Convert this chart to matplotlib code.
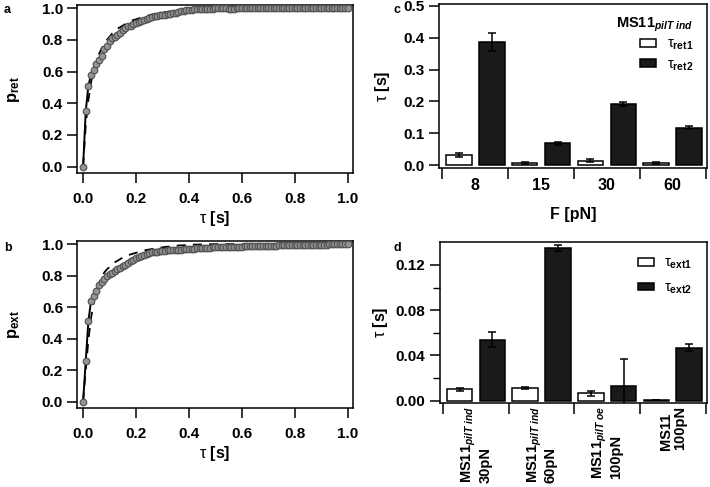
import matplotlib
matplotlib.use("Agg")
import matplotlib.pyplot as plt
import numpy as np

plt.rcParams.update({
    'font.family': ['Liberation Sans', 'DejaVu Sans'],
    'font.size': 11,
    'font.weight': 'bold',
    'axes.labelweight': 'bold',
    'mathtext.fontset': 'custom',
    'mathtext.rm': 'Liberation Sans:bold',
    'mathtext.bf': 'Liberation Sans:bold',
    'mathtext.it': 'Liberation Sans:italic',
    'mathtext.sf': 'Liberation Sans:bold',
    'axes.linewidth': 1.1,
    'xtick.major.width': 1.1,
    'ytick.major.width': 1.1,
    'xtick.minor.width': 1.0,
    'ytick.minor.width': 1.0,
})

# ---- data: cumulative dwell-time distributions (tau = 0 .. 1 s, step 0.01) ----
tau = np.round(np.arange(0, 101) * 0.01, 2)

p_ret = [0.0, 0.35, 0.51, 0.58, 0.61, 0.645, 0.67, 0.70, 0.74, 0.76,
         0.79, 0.81, 0.82, 0.83, 0.845, 0.86, 0.875, 0.885, 0.89, 0.90,
         0.905, 0.915, 0.92, 0.925, 0.93, 0.94, 0.945, 0.95, 0.952, 0.955,
         0.958, 0.96, 0.962, 0.965, 0.967, 0.97, 0.975, 0.98, 0.985, 0.988,
         0.99, 0.991, 0.992, 0.993, 0.994, 0.995, 0.996, 0.996, 0.997, 0.997,
         0.998, 0.998, 0.998, 0.998, 0.998, 0.997, 0.997, 0.997, 0.998, 0.998,
         0.998, 0.998, 0.999, 0.999, 0.999, 0.999, 0.999, 0.999, 0.999, 0.999,
         0.999, 0.999, 0.999, 0.999, 0.999, 0.999, 0.999, 0.999, 0.999, 0.999,
         1.0, 1.0, 1.0, 1.0, 1.0, 1.0, 1.0, 1.0, 1.0, 1.0,
         1.0, 1.0, 1.0, 1.0, 1.0, 1.0, 1.0, 1.0, 1.0, 1.0, 1.0]

fit_ret = [0.0, 0.26, 0.42, 0.53, 0.61, 0.67, 0.71, 0.745, 0.775, 0.80,
           0.82, 0.84, 0.855, 0.87, 0.88, 0.89, 0.90, 0.91, 0.92, 0.925,
           0.93, 0.935, 0.94, 0.945, 0.95, 0.955, 0.96, 0.963, 0.966, 0.969,
           0.972, 0.975, 0.977, 0.979, 0.981, 0.983, 0.985, 0.987, 0.989, 0.99,
           0.991, 0.992, 0.993, 0.994, 0.995, 0.996, 0.997, 0.998, 0.998, 0.999,
           0.999] + [1.0] * 50

p_ext = [0.0, 0.257, 0.51, 0.64, 0.67, 0.70, 0.74, 0.76, 0.78, 0.80,
         0.81, 0.82, 0.83, 0.84, 0.85, 0.86, 0.87, 0.88, 0.89, 0.90,
         0.91, 0.917, 0.925, 0.932, 0.94, 0.945, 0.948, 0.95, 0.952, 0.954,
         0.956, 0.958, 0.96, 0.961, 0.962, 0.964, 0.965, 0.966, 0.967, 0.968,
         0.97, 0.971, 0.972, 0.973, 0.974, 0.975, 0.976, 0.977, 0.978, 0.979,
         0.98, 0.981, 0.981, 0.982, 0.982, 0.983, 0.983, 0.984, 0.984, 0.985,
         0.985, 0.986, 0.986, 0.987, 0.987, 0.988, 0.988, 0.989, 0.989, 0.99,
         0.99, 0.991, 0.991, 0.991, 0.992, 0.992, 0.992, 0.993, 0.993, 0.993,
         0.994, 0.994, 0.994, 0.995, 0.995, 0.995, 0.996, 0.996, 0.996, 0.997,
         0.997, 0.997, 0.997, 0.998, 0.998, 0.998, 0.998, 0.999, 0.999, 0.999, 1.0]

fit_ext = [0.0, 0.20, 0.39, 0.53, 0.63, 0.70, 0.75, 0.79, 0.82, 0.84,
           0.855, 0.87, 0.885, 0.895, 0.905, 0.915, 0.925, 0.93, 0.935, 0.94,
           0.945, 0.95, 0.955, 0.96, 0.963, 0.966, 0.969, 0.972, 0.975, 0.977,
           0.98, 0.982, 0.984, 0.986, 0.988, 0.99, 0.991, 0.992, 0.993, 0.994,
           0.995, 0.996, 0.997, 0.997, 0.998, 0.998, 0.999, 0.999, 0.999, 1.0,
           1.0] + [1.0] * 50

# ---- data: fitted time constants ----
forces = ['8', '15', '30', '60']
ret1 = [0.031, 0.007, 0.014, 0.007]
ret1_err = [0.007, 0.004, 0.004, 0.004]
ret2 = [0.386, 0.069, 0.192, 0.118]
ret2_err = [0.028, 0.005, 0.007, 0.004]

strains = ['MS11$_{\\it pilT\\ ind}$\n30pN', 'MS11$_{\\it pilT\\ ind}$\n60pN',
           'MS11$_{\\it pilT\\ oe}$\n100pN', 'MS11\n100pN']
ext1 = [0.010, 0.011, 0.0065, 0.0008]
ext1_err = [0.001, 0.001, 0.0023, 0.0]
ext2 = [0.054, 0.135, 0.0132, 0.047]
ext2_err = [0.0065, 0.003, 0.024, 0.003]

W, H = 710, 487
fig = plt.figure(figsize=(W / 100, H / 100), dpi=100)


def px_axes(l, t, r, b):
    return fig.add_axes([l / W, 1 - b / H, (r - l) / W, (b - t) / H])


def cdf_panel(ax, y, fit, ylab):
    ax.plot(tau, fit, ls=(0, (5, 4)), color='k', lw=1.3, zorder=2)
    ax.plot(tau, y, color='k', lw=1.4, marker='o', ms=4.8,
            mfc='#939393', mec='#505050', mew=0.8, zorder=3)
    ax.set_xlim(-0.023, 1.02)
    ax.set_ylim(-0.04, 1.02)
    ax.set_xticks(np.arange(0, 1.01, 0.2))
    ax.set_yticks(np.arange(0, 1.01, 0.2))
    ax.xaxis.set_major_formatter(matplotlib.ticker.FormatStrFormatter('%.1f'))
    ax.yaxis.set_major_formatter(matplotlib.ticker.FormatStrFormatter('%.1f'))
    ax.tick_params(direction='out', length=7, pad=3)
    ax.tick_params(axis='x', pad=7)
    ax.set_xlabel('τ $\\rm [s]$', fontweight='normal', fontsize=11.5, labelpad=2)
    ax.set_ylabel(ylab, fontsize=12, labelpad=14)


ax_a = px_axes(77, 5, 353, 173)
cdf_panel(ax_a, p_ret, fit_ret, '$\\rm p_{ret}$')
ax_b = px_axes(77, 241, 353, 408)
cdf_panel(ax_b, p_ext, fit_ext, '$\\rm p_{ext}$')


def bar_panel(ax, v1, e1, v2, e2):
    x = np.arange(len(v1))
    w = 0.39
    b1 = ax.bar(x - 0.25, v1, w, color='white', edgecolor='k', lw=1.1, zorder=2)
    b2 = ax.bar(x + 0.25, v2, w, color='#1a1a1a', edgecolor='k', lw=1.1, zorder=2)
    ax.errorbar(x - 0.25, v1, yerr=e1, fmt='none', ecolor='k', elinewidth=1.1,
                capsize=3, capthick=1.1, zorder=3)
    ax.errorbar(x + 0.25, v2, yerr=e2, fmt='none', ecolor='k', elinewidth=1.1,
                capsize=3, capthick=1.1, zorder=3)
    ax.set_xlim(-0.55, 3.52)
    ax.set_xticks(np.arange(-0.5, 3.6, 1.0))
    ax.set_xticklabels([''] * 5)
    ax.set_xticks(x, minor=True)
    ax.tick_params(axis='x', which='major', direction='out', length=8)
    ax.tick_params(axis='x', which='minor', length=0)
    ax.tick_params(axis='y', direction='out', length=7.5, pad=3)
    return b1, b2


ax_c = px_axes(439, 4, 707, 168)
b1, b2 = bar_panel(ax_c, ret1, ret1_err, ret2, ret2_err)
ax_c.set_xticklabels(forces, minor=True, fontsize=11.5)
ax_c.tick_params(axis='x', which='minor', pad=7)
ax_c.set_ylim(-0.009, 0.506)
ax_c.set_yticks(np.arange(0, 0.51, 0.1))
ax_c.yaxis.set_major_formatter(matplotlib.ticker.FormatStrFormatter('%.1f'))
ax_c.set_xlabel('F [pN]', fontsize=11.5, labelpad=10)
ax_c.set_ylabel('τ $\\rm [s]$', fontweight='normal', fontsize=11.5, labelpad=8)
ax_c.legend([b1, b2], ['τ$_{\\rm ret1}$', 'τ$_{\\rm ret2}$'],
            loc='upper right', bbox_to_anchor=(0.97, 0.835), frameon=False,
            prop={'weight': 'normal', 'size': 10.5},
            handlelength=1.1, handleheight=0.45, handletextpad=0.75,
            labelspacing=0.35, borderaxespad=0)
ax_c.text(693 / W, 1 - 25 / H, 'MS11$_{\\it pilT\\ ind}$', transform=fig.transFigure,
          ha='right', va='center', fontsize=10.5)

ax_d = px_axes(440, 242, 707, 403)
d1, d2 = bar_panel(ax_d, ext1, ext1_err, ext2, ext2_err)
ax_d.set_xticklabels(strains, minor=True, rotation=90, ha='center', va='top',
                     multialignment='left', fontsize=10.5, linespacing=1.0)
ax_d.tick_params(axis='x', which='minor', pad=2)
ax_d.set_ylim(-0.002, 0.1403)
ax_d.set_yticks(np.arange(0, 0.121, 0.04))
ax_d.set_yticks(np.arange(0.02, 0.14, 0.04), minor=True)
ax_d.tick_params(axis='y', which='minor', direction='out', length=5)
ax_d.yaxis.set_major_formatter(matplotlib.ticker.FormatStrFormatter('%.2f'))
ax_d.set_ylabel('τ $\\rm [s]$', fontweight='normal', fontsize=11.5, labelpad=4)
ax_d.legend([d1, d2], ['τ$_{\\rm ext1}$', 'τ$_{\\rm ext2}$'],
            loc='upper right', bbox_to_anchor=(0.965, 0.95), frameon=False,
            prop={'weight': 'normal', 'size': 10.5},
            handlelength=1.1, handleheight=0.45, handletextpad=0.65,
            labelspacing=0.65, borderaxespad=0)

for lab, xx, yy in [('a', 4, 10), ('b', 4, 248), ('c', 393, 10), ('d', 393, 248)]:
    fig.text(xx / W, 1 - yy / H, lab, fontsize=9, fontweight='bold', va='center')

fig.savefig('out.png', dpi=100)
